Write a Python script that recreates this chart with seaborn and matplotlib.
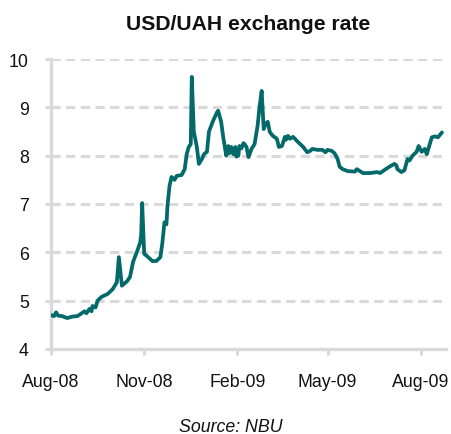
import matplotlib
matplotlib.use("Agg")
import matplotlib.pyplot as plt
import matplotlib.dates as mdates
import pandas as pd
import seaborn as sns

# Official hryvnia rate per US dollar (NBU), Aug 2008 - Aug 2009
dates = [
    "2008-08-01", "2008-08-04", "2008-08-06", "2008-08-08", "2008-08-12",
    "2008-08-17", "2008-08-22", "2008-08-27", "2008-08-30", "2008-09-03",
    "2008-09-05", "2008-09-08", "2008-09-10", "2008-09-11", "2008-09-14",
    "2008-09-16", "2008-09-18", "2008-09-20", "2008-09-26", "2008-10-01",
    "2008-10-05", "2008-10-07", "2008-10-10", "2008-10-15", "2008-10-18",
    "2008-10-21", "2008-10-25", "2008-10-28", "2008-10-29", "2008-10-30",
    "2008-11-01", "2008-11-05", "2008-11-09", "2008-11-13", "2008-11-17",
    "2008-11-19", "2008-11-21", "2008-11-23", "2008-11-24", "2008-11-26",
    "2008-11-28", "2008-12-01", "2008-12-03", "2008-12-08", "2008-12-11",
    "2008-12-13", "2008-12-15", "2008-12-17", "2008-12-18", "2008-12-20",
    "2008-12-23", "2008-12-25", "2008-12-28", "2008-12-30", "2009-01-02",
    "2009-01-04", "2009-01-08", "2009-01-12", "2009-01-13", "2009-01-16",
    "2009-01-18", "2009-01-21", "2009-01-23", "2009-01-24", "2009-01-26",
    "2009-01-28", "2009-01-30", "2009-01-31", "2009-02-02", "2009-02-03",
    "2009-02-05", "2009-02-07", "2009-02-08", "2009-02-10", "2009-02-12",
    "2009-02-15", "2009-02-18", "2009-02-20", "2009-02-21", "2009-02-23",
    "2009-02-25", "2009-02-27", "2009-03-01", "2009-03-03", "2009-03-05",
    "2009-03-08", "2009-03-12", "2009-03-14", "2009-03-17", "2009-03-20",
    "2009-03-21", "2009-03-23", "2009-03-25", "2009-03-28", "2009-04-01",
    "2009-04-04", "2009-04-07", "2009-04-11", "2009-04-14", "2009-04-16",
    "2009-04-21", "2009-04-26", "2009-04-29", "2009-05-01", "2009-05-05",
    "2009-05-08", "2009-05-11", "2009-05-13", "2009-05-16", "2009-05-21",
    "2009-05-28", "2009-05-30", "2009-06-05", "2009-06-12", "2009-06-19",
    "2009-06-22", "2009-06-26", "2009-07-01", "2009-07-06", "2009-07-08",
    "2009-07-09", "2009-07-13", "2009-07-16", "2009-07-19", "2009-07-21",
    "2009-07-24", "2009-07-28", "2009-07-30", "2009-08-02", "2009-08-05",
    "2009-08-07", "2009-08-10", "2009-08-12", "2009-08-15", "2009-08-18",
    "2009-08-22",
]
rates = [
    4.70, 4.68, 4.76, 4.69, 4.68,
    4.64, 4.67, 4.68, 4.72, 4.78,
    4.74, 4.83, 4.78, 4.89, 4.86,
    5.00, 5.04, 5.08, 5.14, 5.24,
    5.38, 5.90, 5.31, 5.40, 5.49,
    5.80, 6.02, 6.20, 6.35, 7.02,
    5.97, 5.90, 5.82, 5.82, 5.90,
    6.20, 6.62, 6.58, 6.96, 7.37,
    7.56, 7.50, 7.58, 7.60, 7.72,
    8.03, 8.18, 8.24, 9.63, 8.50,
    8.18, 7.83, 7.93, 8.03, 8.08,
    8.50, 8.72, 8.90, 8.93, 8.70,
    8.39, 8.00, 8.20, 8.05, 8.18,
    8.03, 8.18, 7.98, 8.00, 8.20,
    8.15, 8.26, 8.24, 8.18, 7.97,
    8.14, 8.24, 8.50, 8.62, 9.03,
    9.34, 8.55, 8.66, 8.70, 8.49,
    8.41, 8.35, 8.18, 8.20, 8.39,
    8.33, 8.41, 8.35, 8.39, 8.30,
    8.24, 8.18, 8.07, 8.10, 8.14,
    8.12, 8.12, 8.07, 8.12, 8.10,
    8.05, 7.93, 7.77, 7.72, 7.68,
    7.67, 7.72, 7.64, 7.64, 7.66,
    7.64, 7.70, 7.77, 7.83, 7.80,
    7.72, 7.66, 7.70, 7.93, 7.90,
    8.00, 8.08, 8.20, 8.08, 8.14,
    8.03, 8.24, 8.38, 8.40, 8.38,
    8.48,
]
tick_dates = ["2008-08-01", "2008-11-01", "2009-02-01", "2009-05-01", "2009-08-01"]
y_ticks = [4, 5, 6, 7, 8, 9, 10]

title = "USD/UAH exchange rate"
source = "Source: NBU"

sns.set_style("white")
plt.rcParams["font.family"] = ["Liberation Sans", "DejaVu Sans"]

line_color = "#03696a"
grid_color = "#d9d9d9"

df = pd.DataFrame({"date": pd.to_datetime(dates), "rate": rates})

fig = plt.figure(figsize=(4.52, 4.35), dpi=100)
ax = fig.add_axes([51 / 452, 85 / 435, 395 / 452, 290 / 435])

sns.lineplot(data=df, x="date", y="rate", ax=ax, color=line_color,
             linewidth=2.7, zorder=3)

ax.set_xlim(pd.Timestamp("2008-08-01"), pd.Timestamp("2009-08-26"))
ax.set_ylim(4, 10)
ax.set_yticks(y_ticks)
ax.set_xticks(pd.to_datetime(tick_dates))
ax.xaxis.set_major_formatter(mdates.DateFormatter("%b-%y"))

ax.grid(axis="y", color=grid_color, linewidth=2.2, linestyle=(0, (3, 1.8)))
ax.grid(axis="x", visible=False)
ax.set_axisbelow(True)

for side in ("top", "right"):
    ax.spines[side].set_visible(False)
for side in ("left", "bottom"):
    ax.spines[side].set_color(grid_color)
    ax.spines[side].set_linewidth(2.4)

ax.tick_params(axis="y", which="major", length=4.5, width=2.2, color=grid_color,
               labelsize=12.8, pad=11.5, labelcolor="#111111", direction="out", left=True)
ax.tick_params(axis="x", which="major", length=4.5, width=2.2, color=grid_color,
               labelsize=12.8, pad=13, labelcolor="#111111", direction="out", bottom=True)

ax.set_xlabel("")
ax.set_ylabel("")

fig.text(248 / 452, 1 - 25 / 435, title, ha="center", va="center",
         fontsize=15.2, fontweight="bold", color="#111111")
fig.text(231 / 452, 1 - 428 / 435, source, ha="center", va="center",
         fontsize=12.8, style="italic", color="#111111")

fig.savefig("out.png", dpi=100)
